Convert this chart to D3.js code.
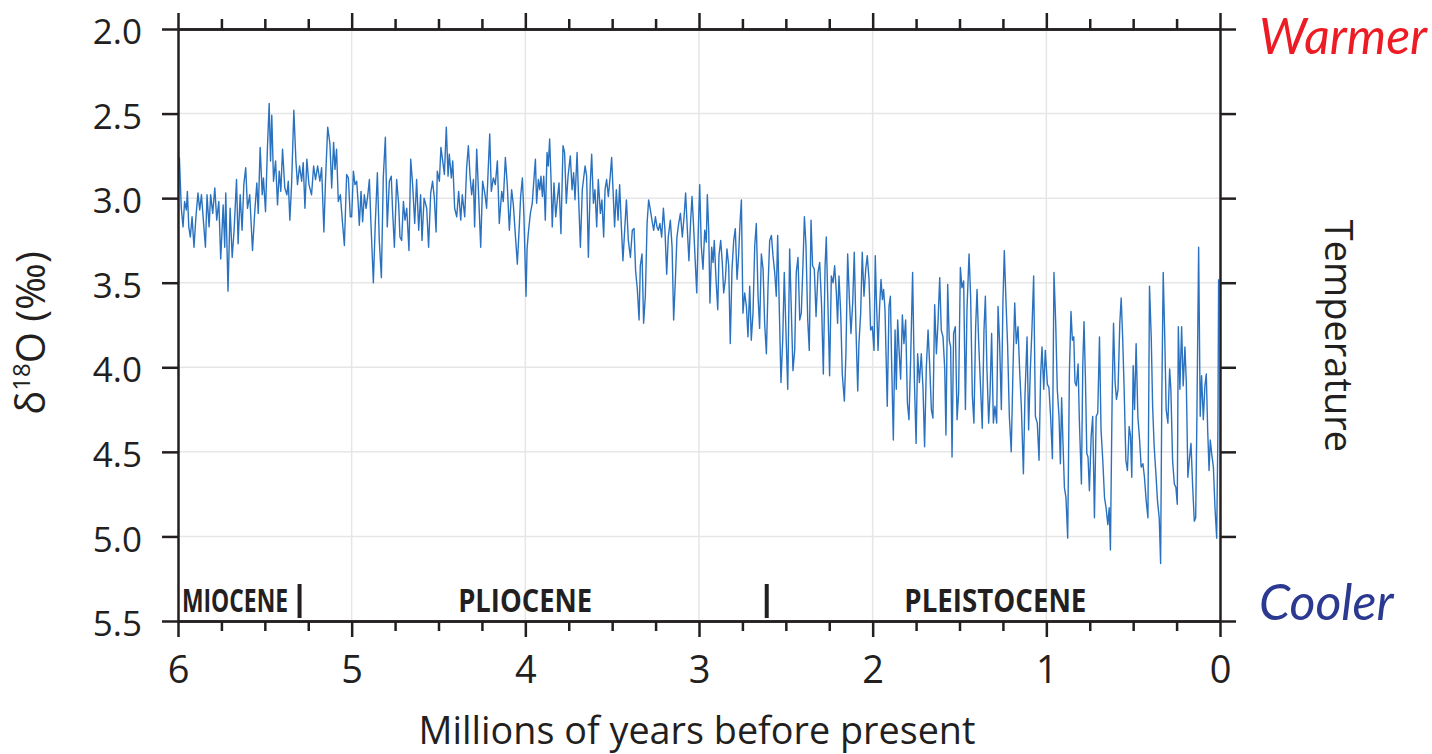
<!DOCTYPE html>
<html><head><meta charset="utf-8">
<script src="https://cdn.jsdelivr.net/npm/d3@7"></script>
<style>body{margin:0;background:#fff} svg{display:block}</style>
</head><body><svg id="c" width="1432" height="754"></svg>
<script>
// ---- DATA: [age (Ma), δ18O (‰)] ----
const seg6to5 = [[5.992,2.76],[5.981,3.06],[5.971,3.17],[5.962,3.02],[5.952,3.07],[5.946,2.96],[5.938,3.17],[5.929,3.23],[5.919,3.11],[5.908,3.29],[5.896,3.10],[5.885,2.97],[5.875,3.07],[5.865,2.98],[5.854,3.13],[5.842,3.29],[5.833,2.98],[5.821,3.17],[5.812,2.98],[5.800,3.09],[5.788,2.94],[5.777,3.13],[5.765,3.02],[5.754,3.36],[5.740,3.04],[5.731,3.29],[5.725,2.97],[5.712,3.55],[5.700,3.06],[5.688,3.35],[5.677,3.19],[5.663,2.89],[5.654,3.27],[5.642,2.98],[5.631,3.19],[5.621,2.92],[5.610,2.82],[5.600,3.06],[5.587,2.98],[5.571,3.31],[5.558,3.08],[5.546,2.91],[5.538,3.09],[5.527,2.70],[5.515,2.98],[5.508,2.88],[5.496,3.08],[5.485,2.70],[5.475,2.44],[5.467,2.78],[5.460,2.51],[5.450,2.90],[5.438,2.78],[5.427,3.04],[5.417,2.84],[5.408,2.96],[5.398,2.71],[5.385,2.94],[5.373,2.98],[5.365,2.90],[5.356,3.13],[5.346,2.92],[5.333,2.48],[5.321,2.78],[5.312,2.92],[5.300,2.81],[5.288,2.90],[5.279,2.79],[5.269,3.06],[5.258,2.77],[5.246,2.92],[5.231,2.98],[5.219,2.81],[5.208,2.89],[5.196,2.81],[5.183,2.90],[5.173,2.82],[5.160,3.20],[5.150,2.88],[5.138,2.58],[5.125,2.68],[5.115,2.94],[5.104,2.67],[5.096,2.83],[5.087,2.71],[5.077,3.02],[5.065,2.98],[5.054,3.13],[5.042,3.28],[5.029,2.86],[5.019,2.88],[5.008,3.11]];
const seg5to4 = [[5.000,3.11],[4.990,2.84],[4.981,2.92],[4.971,2.90],[4.962,3.04],[4.956,3.16],[4.946,2.96],[4.937,3.14],[4.927,2.98],[4.917,3.06],[4.908,2.99],[4.898,2.89],[4.889,3.15],[4.875,3.50],[4.864,3.15],[4.852,2.85],[4.841,3.25],[4.829,3.47],[4.818,2.88],[4.806,2.64],[4.795,3.17],[4.783,2.90],[4.772,2.87],[4.764,3.08],[4.754,3.29],[4.741,2.89],[4.729,3.04],[4.722,3.23],[4.712,3.25],[4.702,3.02],[4.693,3.13],[4.683,3.06],[4.670,3.31],[4.660,2.77],[4.649,2.92],[4.637,3.15],[4.626,2.89],[4.614,3.19],[4.603,2.98],[4.595,3.25],[4.583,3.00],[4.568,3.06],[4.557,3.29],[4.545,2.97],[4.534,2.90],[4.524,3.00],[4.514,3.20],[4.507,2.84],[4.495,2.90],[4.486,2.70],[4.476,2.78],[4.466,2.86],[4.455,2.58],[4.445,2.87],[4.438,2.74],[4.426,2.88],[4.418,2.78],[4.407,3.06],[4.395,3.11],[4.384,2.96],[4.372,3.13],[4.363,2.98],[4.349,3.11],[4.338,2.82],[4.328,2.69],[4.319,2.86],[4.309,2.98],[4.299,2.89],[4.292,3.17],[4.280,2.71],[4.269,2.98],[4.257,3.29],[4.246,2.90],[4.232,2.98],[4.223,3.06],[4.215,2.86],[4.205,2.62],[4.196,2.96],[4.184,2.88],[4.173,2.92],[4.161,2.78],[4.150,3.15],[4.136,2.96],[4.127,3.02],[4.115,2.76],[4.104,2.92],[4.092,3.19],[4.079,2.95],[4.069,3.04],[4.058,3.21],[4.046,3.39],[4.035,3.17],[4.027,2.99],[4.017,2.88],[4.008,3.11]];
const seg4to3 = [[3.996,3.58],[3.990,3.30],[3.983,3.21],[3.971,3.09],[3.960,3.03],[3.952,2.91],[3.942,2.77],[3.935,3.03],[3.925,2.89],[3.917,2.95],[3.910,2.87],[3.902,2.99],[3.894,2.87],[3.885,3.13],[3.875,2.73],[3.868,2.81],[3.860,2.65],[3.852,2.89],[3.845,3.17],[3.835,2.91],[3.825,3.11],[3.816,3.01],[3.806,2.91],[3.795,3.21],[3.783,2.69],[3.774,2.73],[3.764,3.03],[3.754,2.87],[3.741,2.75],[3.731,2.95],[3.722,2.85],[3.714,3.01],[3.702,2.73],[3.695,2.95],[3.683,3.29],[3.672,2.95],[3.656,2.81],[3.647,2.87],[3.637,3.35],[3.626,2.91],[3.618,2.74],[3.608,3.03],[3.599,2.95],[3.589,3.17],[3.580,2.89],[3.568,3.09],[3.559,3.01],[3.549,3.23],[3.541,2.95],[3.532,2.89],[3.522,2.99],[3.512,2.88],[3.503,2.76],[3.495,2.95],[3.486,3.17],[3.476,2.95],[3.466,3.13],[3.457,2.92],[3.447,3.17],[3.438,3.37],[3.428,3.19],[3.418,3.01],[3.407,3.25],[3.395,3.35],[3.384,3.19],[3.374,3.18],[3.365,3.43],[3.355,3.54],[3.345,3.72],[3.338,3.40],[3.328,3.33],[3.319,3.74],[3.309,3.58],[3.299,3.15],[3.290,3.01],[3.280,3.07],[3.271,3.13],[3.261,3.19],[3.251,3.11],[3.242,3.17],[3.234,3.19],[3.225,3.15],[3.215,3.23],[3.205,3.06],[3.196,3.19],[3.186,3.45],[3.177,3.23],[3.165,3.13],[3.155,3.29],[3.146,3.72],[3.136,3.48],[3.127,3.23],[3.117,3.15],[3.107,3.09],[3.096,3.23],[3.086,3.11],[3.077,2.97],[3.067,3.19],[3.058,3.37],[3.048,3.13],[3.040,2.99],[3.031,3.17],[3.021,3.39],[3.013,3.56],[3.004,3.19]];
const seg3to2 = [[2.996,2.92],[2.987,3.28],[2.977,3.42],[2.967,3.19],[2.958,3.26],[2.952,2.98],[2.944,3.19],[2.937,3.62],[2.927,3.29],[2.919,3.38],[2.912,3.25],[2.902,3.48],[2.892,3.66],[2.885,3.34],[2.875,3.25],[2.866,3.38],[2.858,3.56],[2.848,3.48],[2.839,3.30],[2.829,3.40],[2.820,3.86],[2.810,3.42],[2.800,3.25],[2.791,3.18],[2.781,3.48],[2.772,3.34],[2.764,3.15],[2.756,3.01],[2.747,3.68],[2.737,3.56],[2.727,3.64],[2.718,3.82],[2.708,3.52],[2.699,3.84],[2.689,3.68],[2.679,3.28],[2.670,3.15],[2.660,3.58],[2.651,3.77],[2.641,3.33],[2.631,3.42],[2.622,3.74],[2.612,3.92],[2.603,3.54],[2.593,3.25],[2.583,3.22],[2.574,3.34],[2.564,3.44],[2.555,3.58],[2.547,3.22],[2.537,3.68],[2.528,4.09],[2.518,3.84],[2.509,3.44],[2.499,3.80],[2.489,4.13],[2.478,3.30],[2.468,3.68],[2.459,4.02],[2.449,3.90],[2.440,3.44],[2.430,3.35],[2.420,3.72],[2.411,3.68],[2.401,3.38],[2.393,3.11],[2.384,3.28],[2.374,3.72],[2.365,3.90],[2.355,3.13],[2.346,3.40],[2.336,3.42],[2.326,3.70],[2.315,3.44],[2.305,3.38],[2.294,3.64],[2.284,4.04],[2.274,3.40],[2.267,3.23],[2.257,3.66],[2.248,4.05],[2.238,3.46],[2.228,3.50],[2.219,3.40],[2.209,3.56],[2.202,3.74],[2.194,3.46],[2.184,3.68],[2.175,4.04],[2.163,4.20],[2.154,3.92],[2.144,3.33],[2.134,3.60],[2.125,3.80],[2.115,3.62],[2.106,3.32],[2.096,3.78],[2.086,4.14],[2.079,3.86],[2.069,3.68],[2.060,3.32],[2.050,3.58],[2.040,3.42],[2.031,3.34],[2.021,3.48],[2.012,3.78],[2.002,3.76]];
const seg2to1 = [[1.992,3.90],[1.985,3.34],[1.979,3.58],[1.969,3.90],[1.960,3.64],[1.952,3.48],[1.944,3.60],[1.937,3.54],[1.929,3.66],[1.923,3.92],[1.916,4.23],[1.906,3.64],[1.898,3.58],[1.891,3.96],[1.881,4.43],[1.871,3.78],[1.864,4.13],[1.856,3.72],[1.848,3.90],[1.839,4.07],[1.829,3.69],[1.820,3.86],[1.810,3.72],[1.800,4.21],[1.791,4.31],[1.781,3.94],[1.770,3.44],[1.760,4.07],[1.750,4.45],[1.741,3.92],[1.731,4.09],[1.720,3.92],[1.710,4.13],[1.701,4.47],[1.691,4.00],[1.681,3.78],[1.672,3.98],[1.662,4.25],[1.653,4.30],[1.643,3.63],[1.633,3.92],[1.624,3.74],[1.614,3.47],[1.605,3.78],[1.595,3.82],[1.585,4.01],[1.578,4.40],[1.568,3.51],[1.559,3.84],[1.551,3.88],[1.543,4.53],[1.534,3.80],[1.524,3.76],[1.514,4.31],[1.505,4.15],[1.495,3.41],[1.486,3.53],[1.476,3.49],[1.466,4.25],[1.457,3.66],[1.445,3.33],[1.436,3.58],[1.426,4.17],[1.417,4.33],[1.407,3.76],[1.399,3.54],[1.390,3.84],[1.380,4.09],[1.369,4.36],[1.359,3.78],[1.351,3.58],[1.342,4.01],[1.332,4.33],[1.324,4.15],[1.315,3.80],[1.305,4.33],[1.296,4.23],[1.286,4.33],[1.278,3.64],[1.269,3.86],[1.259,4.25],[1.250,3.62],[1.242,3.31],[1.232,3.62],[1.223,3.87],[1.213,4.29],[1.202,4.50],[1.192,4.01],[1.182,3.62],[1.173,3.86],[1.163,3.76],[1.154,4.01],[1.144,4.23],[1.132,4.63],[1.123,4.17],[1.111,3.82],[1.102,4.37],[1.092,4.01],[1.083,3.78],[1.073,3.46],[1.063,4.29],[1.052,4.33],[1.042,4.55],[1.033,4.05],[1.025,3.88],[1.015,4.13],[1.006,3.90]];
const seg1to0 = [[0.994,4.10],[0.985,4.12],[0.975,4.30],[0.965,4.54],[0.956,3.44],[0.946,3.74],[0.937,4.13],[0.927,4.29],[0.919,4.57],[0.912,4.18],[0.904,4.45],[0.896,4.71],[0.887,4.77],[0.877,5.01],[0.867,4.02],[0.858,3.67],[0.850,3.84],[0.842,3.82],[0.835,4.09],[0.827,4.11],[0.817,3.98],[0.810,4.31],[0.798,4.69],[0.790,3.98],[0.783,3.73],[0.775,4.06],[0.767,4.51],[0.760,4.53],[0.752,4.73],[0.742,4.41],[0.733,4.29],[0.723,4.89],[0.713,4.29],[0.704,4.27],[0.694,3.82],[0.685,4.37],[0.675,4.55],[0.665,4.77],[0.656,4.83],[0.646,4.93],[0.638,4.83],[0.631,5.08],[0.621,4.17],[0.613,3.74],[0.604,4.09],[0.596,4.19],[0.587,4.13],[0.577,3.74],[0.569,3.59],[0.560,3.84],[0.552,4.13],[0.542,4.55],[0.533,4.61],[0.523,4.35],[0.515,4.41],[0.508,4.65],[0.500,3.99],[0.492,4.25],[0.483,3.86],[0.473,4.29],[0.463,4.43],[0.454,4.59],[0.444,4.57],[0.435,4.65],[0.425,4.79],[0.415,4.89],[0.406,3.52],[0.396,3.82],[0.388,4.23],[0.379,4.47],[0.369,4.63],[0.360,4.79],[0.350,4.89],[0.342,5.16],[0.335,4.17],[0.327,3.44],[0.319,3.78],[0.310,4.25],[0.300,4.33],[0.290,4.01],[0.283,4.13],[0.273,4.55],[0.263,4.69],[0.254,4.71],[0.246,4.81],[0.240,3.76],[0.231,4.13],[0.221,3.76],[0.212,4.11],[0.202,3.88],[0.194,4.09],[0.185,4.65],[0.175,4.53],[0.167,4.45],[0.158,4.69],[0.148,4.91],[0.140,4.89],[0.133,4.29],[0.123,3.29],[0.114,4.29],[0.106,4.05],[0.096,4.31],[0.087,4.11],[0.079,4.04],[0.071,4.37],[0.063,4.61],[0.056,4.43],[0.048,4.51],[0.038,4.59],[0.029,4.83],[0.019,5.01],[0.012,4.37],[0.008,3.48]];

const xMajorTicks = [6, 5, 4, 3, 2, 1, 0];
const xMinorTicks = [5.75, 5.5, 5.25, 4.75, 4.5, 4.25, 3.75, 3.5, 3.25, 2.75, 2.5, 2.25, 1.75, 1.5, 1.25, 0.75, 0.5, 0.25];
const yTicks = [2.0, 2.5, 3.0, 3.5, 4.0, 4.5, 5.0, 5.5];
const yTickLabels = ["2.0", "2.5", "3.0", "3.5", "4.0", "4.5", "5.0", "5.5"];
const epochNames = ["MIOCENE", "PLIOCENE", "PLEISTOCENE"];
const epochBoundaries = [5.3, 2.61];

// ---- DRAWING ----
const svg = d3.select("#c");
const M = {l: 178, r: 1220, t: 29, b: 621};
const x = d3.scaleLinear().domain([6, 0]).range([M.l, M.r]);
const y = d3.scaleLinear().domain([2, 5.5]).range([M.t, M.b]);
const FONT = "'Open Sans', 'Noto Sans', sans-serif";
const INK = "#231f20";

// grid
svg.append("g").selectAll("line").data(xMajorTicks.filter(d => d > 0 && d < 6)).join("line")
  .attr("x1", d => x(d)).attr("x2", d => x(d)).attr("y1", M.t).attr("y2", M.b)
  .attr("stroke", "#e6e6e6").attr("stroke-width", 1.5);
svg.append("g").selectAll("line").data(yTicks.filter(d => d > 2 && d < 5.5)).join("line")
  .attr("y1", d => y(d)).attr("y2", d => y(d)).attr("x1", M.l).attr("x2", M.r)
  .attr("stroke", "#e6e6e6").attr("stroke-width", 1.5);

// series
const series = [].concat(seg6to5, seg5to4, seg4to3, seg3to2, seg2to1, seg1to0);
svg.append("path").datum(series)
  .attr("d", d3.line().x(d => x(d[0])).y(d => y(d[1])))
  .attr("fill", "none").attr("stroke", "#2a72c0").attr("stroke-width", 1.4)
  .attr("stroke-linejoin", "round");

function styleAxis(g) {
  g.selectAll("path,line").attr("stroke", INK).attr("stroke-width", 2.5);
  g.selectAll("text").attr("fill", INK);
  g.attr("font-family", FONT);
}
// bottom
svg.append("g").attr("transform", `translate(0,${M.b})`)
  .call(d3.axisBottom(x).tickValues(xMajorTicks).tickFormat(d3.format("d")).tickSize(16).tickSizeOuter(0).tickPadding(19))
  .attr("font-size", 38).call(styleAxis);
svg.append("g").attr("transform", `translate(0,${M.b})`)
  .call(d3.axisBottom(x).tickValues(xMinorTicks).tickFormat("").tickSize(10).tickSizeOuter(0)).call(styleAxis);
// top
svg.append("g").attr("transform", `translate(0,${M.t})`)
  .call(d3.axisTop(x).tickValues(xMajorTicks).tickFormat("").tickSize(16).tickSizeOuter(0)).call(styleAxis);
svg.append("g").attr("transform", `translate(0,${M.t})`)
  .call(d3.axisTop(x).tickValues(xMinorTicks).tickFormat("").tickSize(10).tickSizeOuter(0)).call(styleAxis);
// left
svg.append("g").attr("transform", `translate(${M.l},0)`)
  .call(d3.axisLeft(y).tickValues(yTicks).tickFormat((d, i) => yTickLabels[i]).tickSize(16).tickPadding(20).tickSizeOuter(0))
  .attr("font-size", 35).call(styleAxis)
  .selectAll("text").attr("dy", "0.42em");
// right
svg.append("g").attr("transform", `translate(${M.r},0)`)
  .call(d3.axisRight(y).tickValues(yTicks).tickFormat("").tickSize(16).tickSizeOuter(0)).call(styleAxis);

// epochs
svg.append("g").selectAll("rect").data(epochBoundaries).join("rect")
  .attr("x", d => x(d) - 2).attr("y", 584).attr("width", 4).attr("height", 34).attr("fill", INK);
const epochEdges = [6].concat(epochBoundaries, [0]);
const epochLen = [106, 134, 182];
const epochShift = [4, -8, 2];
svg.append("g").selectAll("text").data(epochNames).join("text")
  .attr("x", (d, i) => (i === 0 ? x(epochEdges[0]) : x((epochEdges[i] + epochEdges[i + 1]) / 2)) + epochShift[i])
  .attr("y", 612)
  .attr("text-anchor", (d, i) => i === 0 ? "start" : "middle")
  .attr("font-family", FONT).attr("font-weight", 700).attr("font-size", 32)
  .attr("textLength", (d, i) => epochLen[i]).attr("lengthAdjust", "spacingAndGlyphs")
  .attr("fill", INK).text(d => d);

// axis titles
svg.append("text").attr("x", 697).attr("y", 744).attr("text-anchor", "middle")
  .attr("font-family", FONT).attr("font-size", 39).attr("fill", INK)
  .attr("textLength", 557).attr("lengthAdjust", "spacingAndGlyphs")
  .text("Millions of years before present");

const yt = svg.append("text").attr("transform", "translate(45,333) rotate(-90)").attr("text-anchor", "middle")
  .attr("font-family", FONT).attr("font-size", 40).attr("fill", INK);
yt.append("tspan").text("δ");
yt.append("tspan").attr("font-size", 24).attr("dy", -15).text("18");
yt.append("tspan").attr("dy", 15).text("O (‰)");

svg.append("text").attr("transform", "translate(1325,336) rotate(90)").attr("text-anchor", "middle")
  .attr("font-family", FONT).attr("font-size", 38).attr("fill", INK).text("Temperature");

svg.append("text").attr("x", 1259).attr("y", 54).attr("font-family", "Lato, 'Open Sans', sans-serif")
  .attr("font-style", "italic").attr("font-size", 50).attr("fill", "#ed1c24").text("Warmer");
svg.append("text").attr("x", 1259).attr("y", 620).attr("font-family", "Lato, 'Open Sans', sans-serif")
  .attr("font-style", "italic").attr("font-size", 50).attr("fill", "#2b3990").text("Cooler");
</script></body></html>
